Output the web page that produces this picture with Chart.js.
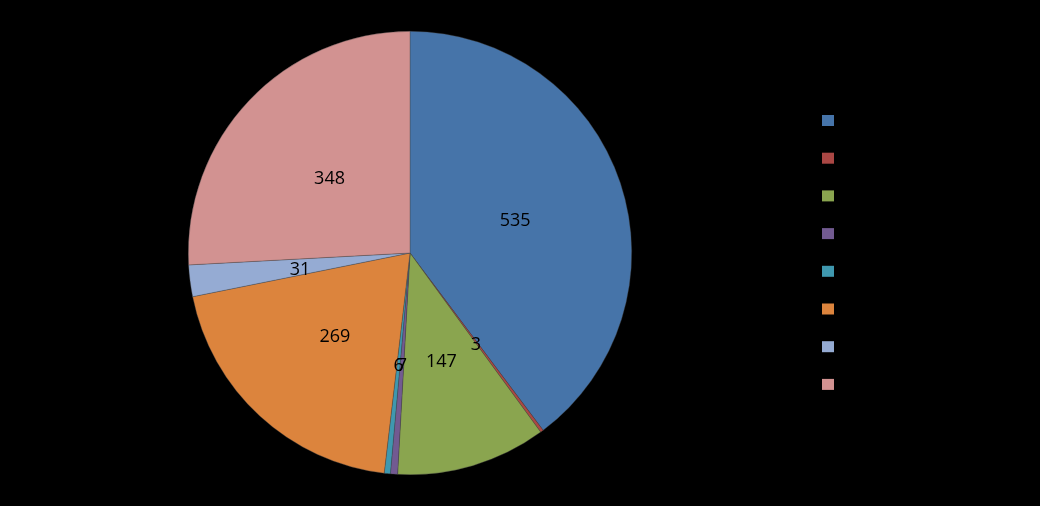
<!DOCTYPE html>
<html>
<head>
    <meta charset="UTF-8">
    <title>Pie</title>
    <script src="https://cdn.jsdelivr.net/npm/chart.js"></script>
    <style>
        html, body {
            margin: 0;
            padding: 0;
            background: #000;
        }

        #wrap {
            width: 1040px;
            height: 506px;
        }
    </style>
</head>
<body>
    <div id="wrap">
        <canvas id="pie" width="1040" height="506"></canvas>
    </div>

    <script>
        // categories have no visible name in the picture (legend text is black on black)
        const categories = ['1', '2', '3', '4', '5', '6', '7', '8'];
        const values = [535, 3, 147, 7, 6, 269, 31, 348];
        const colors = ['#4674A9', '#AA4744', '#8AA54F', '#725A91', '#3F98AF', '#DC843D', '#95ABD3', '#D29291'];

        // numbers written in the middle of each slice
        const sliceLabels = {
            id: 'sliceLabels',
            afterDatasetsDraw(chart) {
                const ctx = chart.ctx;
                const meta = chart.getDatasetMeta(0);
                ctx.save();
                ctx.font = '18px "Open Sans", sans-serif';
                ctx.fillStyle = '#000';
                ctx.textAlign = 'center';
                ctx.textBaseline = 'middle';
                meta.data.forEach((arc, i) => {
                    const p = arc.tooltipPosition();
                    ctx.fillText(String(values[i]), p.x, p.y + 2.5);
                });
                ctx.restore();
            }
        };

        // legend on the right: only the coloured boxes are visible
        const boxLegend = {
            id: 'boxLegend',
            afterDraw(chart) {
                const ctx = chart.ctx;
                ctx.save();
                categories.forEach((c, i) => {
                    const y = 115 + i * 37.7;
                    ctx.fillStyle = colors[i];
                    ctx.fillRect(822, y, 12, 11);
                    ctx.fillStyle = '#000';
                    ctx.font = '14px "Open Sans", sans-serif';
                    ctx.textBaseline = 'middle';
                    ctx.fillText(c, 842, y + 5.5);
                });
                ctx.restore();
            }
        };

        new Chart(document.getElementById('pie').getContext('2d'), {
            type: 'pie',
            data: {
                labels: categories,
                datasets: [{
                    data: values,
                    backgroundColor: colors,
                    borderColor: 'rgba(70,70,70,0.6)',
                    borderWidth: 0.6
                }]
            },
            options: {
                responsive: false,
                animation: false,
                layout: {
                    padding: { left: 188, right: 408, top: 31, bottom: 31 }
                },
                plugins: {
                    legend: { display: false },
                    tooltip: { enabled: false }
                }
            },
            plugins: [sliceLabels, boxLegend]
        });
    </script>
</body>
</html>
